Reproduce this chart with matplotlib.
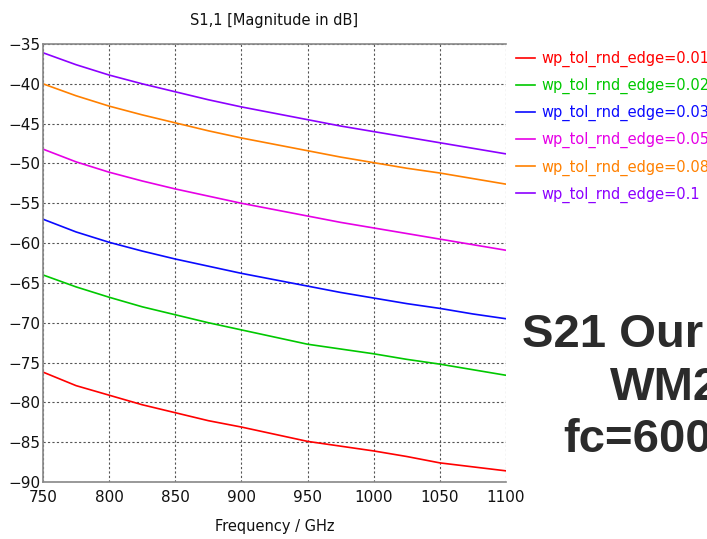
import matplotlib
matplotlib.use("Agg")
import matplotlib.pyplot as plt

freq = [750, 775, 800, 825, 850, 875, 900, 925, 950, 975, 1000, 1025, 1050, 1075, 1100]

s_001 = [-76.2, -77.9, -79.1, -80.3, -81.3, -82.3, -83.1, -84.0, -84.9, -85.5, -86.1, -86.8, -87.6, -88.1, -88.6]
s_002 = [-64.0, -65.5, -66.8, -68.0, -69.0, -70.0, -70.9, -71.8, -72.7, -73.3, -73.9, -74.6, -75.2, -75.9, -76.6]
s_003 = [-57.0, -58.6, -59.9, -61.0, -62.0, -62.9, -63.8, -64.6, -65.4, -66.2, -66.9, -67.6, -68.2, -68.9, -69.5]
s_005 = [-48.2, -49.8, -51.1, -52.2, -53.2, -54.1, -55.0, -55.8, -56.6, -57.4, -58.1, -58.8, -59.5, -60.2, -60.9]
s_008 = [-40.0, -41.5, -42.8, -43.9, -44.9, -45.9, -46.8, -47.6, -48.4, -49.2, -49.9, -50.6, -51.2, -51.9, -52.6]
s_010 = [-36.1, -37.6, -38.9, -40.0, -41.0, -42.0, -42.9, -43.7, -44.5, -45.3, -46.0, -46.7, -47.4, -48.1, -48.8]

labels = ["wp_tol_rnd_edge=0.01", "wp_tol_rnd_edge=0.02", "wp_tol_rnd_edge=0.03",
          "wp_tol_rnd_edge=0.05", "wp_tol_rnd_edge=0.08", "wp_tol_rnd_edge=0.1"]
series = [s_001, s_002, s_003, s_005, s_008, s_010]
colors = ["#ff0000", "#00c800", "#0a0aff", "#e600e6", "#ff8000", "#8c00ff"]

xticks = [750, 800, 850, 900, 950, 1000, 1050, 1100]
yticks = [-35, -40, -45, -50, -55, -60, -65, -70, -75, -80, -85, -90]

W, H = 707, 539
fig = plt.figure(figsize=(W / 100, H / 100), dpi=100)
fig.patch.set_facecolor("white")
ax = fig.add_axes([43 / W, (H - 482) / H, (506 - 43) / W, (482 - 44) / H])

handles = []
for ys, c, lab in zip(series, colors, labels):
    h, = ax.plot(freq, ys, color=c, lw=1.2, label=lab)
    handles.append(h)

ax.set_xlim(750, 1100)
ax.set_ylim(-90, -35)
ax.set_xticks(xticks)
ax.set_yticks(yticks)
ax.tick_params(length=0, labelsize=11, colors="#111111")
ax.tick_params(axis="y", pad=2)
ax.tick_params(axis="x", pad=6)
ax.grid(True, color="#555555", linestyle=(0, (2, 2)), linewidth=0.8)
for side in ["left", "bottom", "top"]:
    ax.spines[side].set_color("#888888")
    ax.spines[side].set_linewidth(1.2)
ax.spines["right"].set_visible(False)

ax.set_title("S1,1 [Magnitude in dB]", fontsize=10.5, pad=14, color="#111111")
ax.set_xlabel("Frequency / GHz", fontsize=10.5, labelpad=10, color="#111111")

leg = fig.legend(handles=handles, labels=labels, loc="upper left",
                 bbox_to_anchor=(510 / W, 1 - 45 / H), frameon=False,
                 fontsize=10.5, handlelength=1.3, handletextpad=0.45,
                 labelspacing=0.75, borderaxespad=0)
for txt, c in zip(leg.get_texts(), colors):
    txt.set_color(c)

overlay_kw = dict(fontsize=34, fontweight="bold", color="#2b2b2b",
                  family="Liberation Sans", va="center", ha="left")
fig.text(522 / W, 1 - 335 / H, "S21 Our", **overlay_kw)
fig.text(610 / W, 1 - 388 / H, "WM2", **overlay_kw)
fig.text(563 / W, 1 - 440 / H, "fc=600", **overlay_kw)

fig.savefig("out.png", dpi=100, facecolor="white")
